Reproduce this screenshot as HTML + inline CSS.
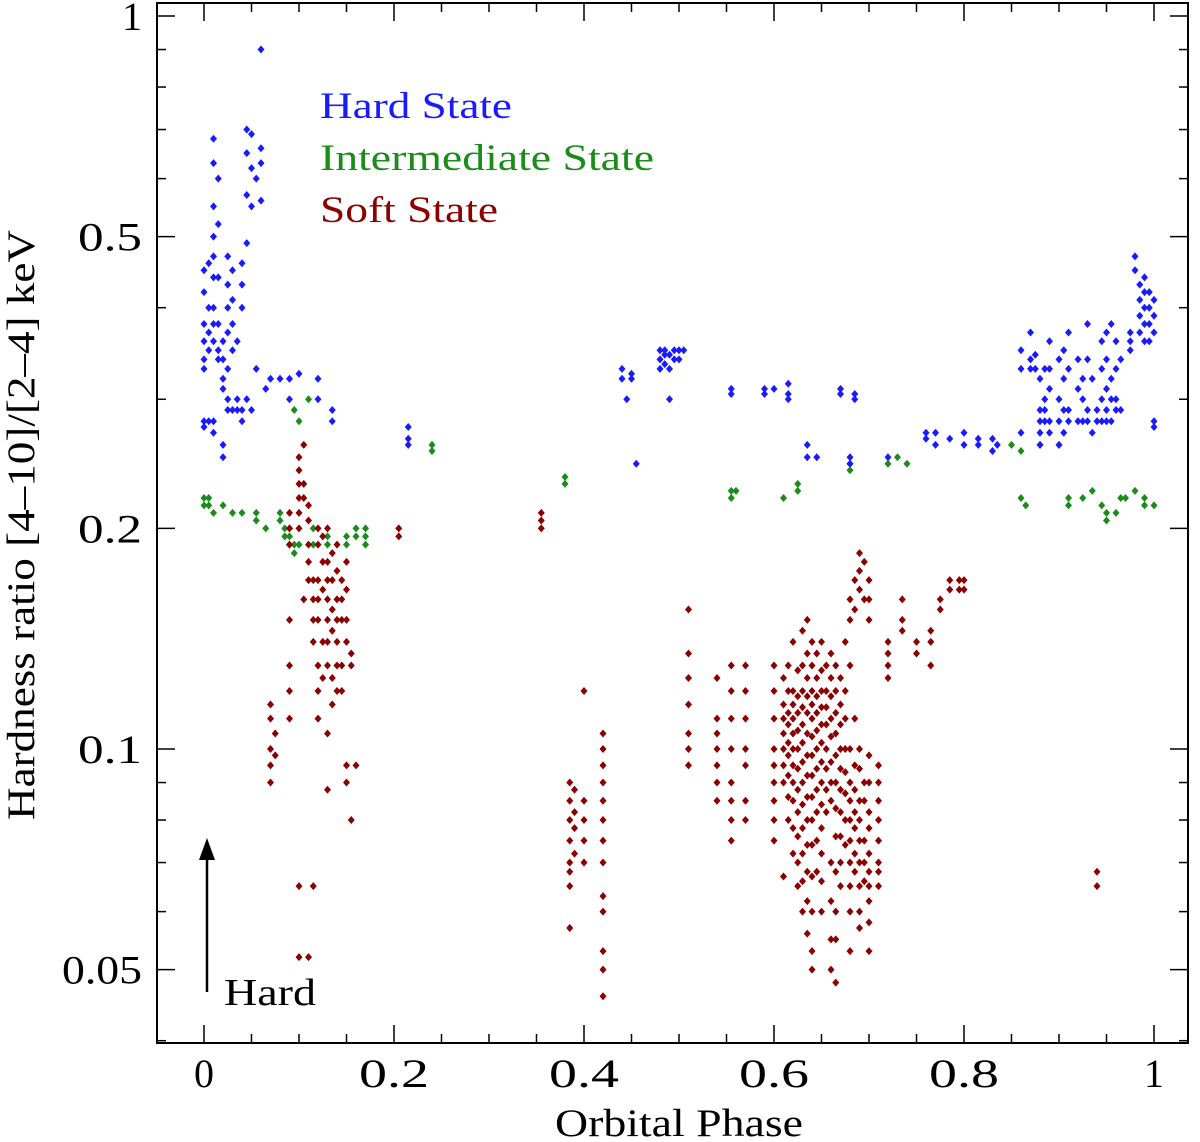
<!DOCTYPE html>
<html><head><meta charset="utf-8">
<style>
html,body{margin:0;padding:0;background:#fff;}
svg{display:block;font-family:"Liberation Serif",serif;}
</style></head>
<body>
<svg id="chart" width="1200" height="1142" viewBox="0 0 1200 1142" xmlns="http://www.w3.org/2000/svg">
<rect x="0" y="0" width="1200" height="1142" fill="#fff"/>
<g id="marks"></g>
<g id="axes"></g>
<text x="320" y="118" font-size="37" textLength="192" lengthAdjust="spacingAndGlyphs" fill="#1a1aff">Hard State</text>
<text x="320" y="170" font-size="37" textLength="334" lengthAdjust="spacingAndGlyphs" fill="#1a8c1a">Intermediate State</text>
<text x="320" y="222" font-size="37" textLength="178" lengthAdjust="spacingAndGlyphs" fill="#8b0000">Soft State</text>
<g>
<line x1="207" y1="992" x2="207" y2="855" stroke="#000" stroke-width="2.5"/>
<polygon points="207,838 199,860 215,860" fill="#000"/>
</g>
<text x="224" y="1005" font-size="38" textLength="92" lengthAdjust="spacingAndGlyphs">Hard</text>
<text x="679" y="1136" font-size="39" text-anchor="middle" textLength="248" lengthAdjust="spacingAndGlyphs">Orbital Phase</text>
<text transform="translate(34,525) rotate(-90)" font-size="39" text-anchor="middle" textLength="590" lengthAdjust="spacingAndGlyphs">Hardness ratio [4–10]/[2–4] keV</text>
</svg>
<script>
const xTickValues=[0,0.2,0.4,0.6,0.8,1];
const xTickLabels=["0","0.2","0.4","0.6","0.8","1"];
const yTickValues=[1,0.5,0.2,0.1,0.05];
const yTickLabels=["1","0.5","0.2","0.1","0.05"];
const yMinorValues=[0.9,0.8,0.7,0.6,0.4,0.3,0.09,0.08,0.07,0.06,0.04];
const hardPhase=[0,0,0,0,0,0,0,0,0.005,0.005,0.005,0.005,0.005,0.01,0.01,0.01,0.01,0.01,0.01,0.01,0.01,0.01,0.01,0.01,0.015,0.015,0.015,0.015,0.015,0.015,0.02,0.02,0.02,0.02,0.02,0.02,0.025,0.025,0.025,0.025,0.025,0.025,0.025,0.03,0.03,0.03,0.03,0.03,0.035,0.035,0.035,0.04,0.04,0.04,0.04,0.04,0.045,0.045,0.045,0.045,0.045,0.05,0.05,0.05,0.05,0.055,0.055,0.06,0.06,0.06,0.06,0.065,0.07,0.08,0.09,0.09,0.1,0.12,0.12,0.135,0.135,0.215,0.215,0.215,0.44,0.44,0.45,0.45,0.455,0.445,0.48,0.48,0.48,0.485,0.485,0.485,0.49,0.49,0.49,0.495,0.495,0.5,0.5,0.505,0.555,0.555,0.59,0.59,0.6,0.615,0.615,0.615,0.635,0.635,0.645,0.67,0.67,0.685,0.685,0.68,0.68,0.72,0.76,0.76,0.77,0.77,0.785,0.8,0.8,0.815,0.815,0.83,0.83,0.835,0.86,0.86,0.86,0.87,0.87,0.87,0.875,0.875,0.88,0.88,0.88,0.88,0.88,0.885,0.885,0.885,0.885,0.89,0.89,0.89,0.89,0.89,0.9,0.9,0.9,0.9,0.905,0.905,0.905,0.905,0.91,0.91,0.91,0.91,0.92,0.92,0.92,0.925,0.925,0.925,0.93,0.93,0.93,0.93,0.935,0.935,0.94,0.94,0.945,0.945,0.945,0.945,0.95,0.95,0.95,0.95,0.95,0.955,0.955,0.955,0.955,0.96,0.96,0.96,0.96,0.965,0.965,0.975,0.975,0.975,0.98,0.98,0.985,0.985,0.985,0.985,0.99,0.99,0.99,0.99,0.99,0.995,0.995,0.995,0.995,1,1,1,1,1];
const hardRatio=[0.45,0.42,0.38,0.36,0.34,0.33,0.28,0.275,0.46,0.40,0.37,0.35,0.28,0.40,0.38,0.36,0.28,0.27,0.68,0.63,0.55,0.5,0.47,0.44,0.60,0.52,0.44,0.38,0.35,0.34,0.36,0.34,0.32,0.31,0.26,0.25,0.47,0.43,0.40,0.37,0.33,0.30,0.29,0.45,0.41,0.38,0.35,0.29,0.36,0.30,0.29,0.46,0.43,0.40,0.29,0.28,0.70,0.65,0.57,0.49,0.30,0.69,0.62,0.55,0.29,0.60,0.33,0.90,0.66,0.63,0.56,0.31,0.32,0.32,0.32,0.30,0.325,0.32,0.30,0.29,0.28,0.275,0.265,0.26,0.33,0.32,0.325,0.32,0.245,0.30,0.35,0.34,0.33,0.35,0.345,0.335,0.345,0.33,0.30,0.35,0.34,0.35,0.34,0.35,0.31,0.305,0.31,0.305,0.31,0.315,0.305,0.30,0.26,0.25,0.25,0.31,0.305,0.305,0.30,0.25,0.245,0.25,0.27,0.265,0.27,0.26,0.265,0.27,0.26,0.265,0.26,0.265,0.255,0.26,0.35,0.33,0.27,0.37,0.34,0.33,0.345,0.33,0.32,0.29,0.28,0.27,0.26,0.33,0.30,0.29,0.28,0.31,0.28,0.27,0.33,0.36,0.34,0.30,0.28,0.26,0.35,0.32,0.29,0.27,0.37,0.33,0.29,0.28,0.34,0.31,0.28,0.32,0.30,0.28,0.38,0.34,0.29,0.28,0.32,0.27,0.29,0.28,0.36,0.33,0.30,0.28,0.37,0.34,0.31,0.29,0.28,0.38,0.32,0.30,0.28,0.36,0.33,0.30,0.29,0.34,0.29,0.37,0.35,0.36,0.47,0.45,0.43,0.41,0.39,0.37,0.44,0.42,0.40,0.38,0.36,0.42,0.40,0.38,0.36,0.41,0.39,0.37,0.28,0.275];
const interPhase=[0,0,0.005,0.005,0.01,0.02,0.03,0.04,0.055,0.055,0.065,0.08,0.08,0.085,0.085,0.09,0.09,0.09,0.095,0.095,0.095,0.1,0.1,0.11,0.115,0.115,0.13,0.13,0.15,0.15,0.16,0.16,0.17,0.17,0.17,0.24,0.24,0.38,0.38,0.555,0.555,0.56,0.625,0.625,0.61,0.68,0.68,0.72,0.73,0.74,0.85,0.86,0.88,0.9,0.86,0.865,0.91,0.91,0.925,0.935,0.945,0.95,0.95,0.96,0.965,0.97,0.98,0.99,0.99,1];
const interRatio=[0.215,0.22,0.22,0.215,0.21,0.215,0.21,0.21,0.205,0.21,0.20,0.21,0.205,0.20,0.195,0.195,0.19,0.2,0.185,0.19,0.29,0.28,0.19,0.30,0.2,0.19,0.195,0.19,0.19,0.195,0.195,0.2,0.19,0.2,0.195,0.26,0.255,0.235,0.23,0.225,0.22,0.225,0.23,0.225,0.22,0.245,0.24,0.245,0.25,0.245,0.26,0.255,0.26,0.26,0.22,0.215,0.22,0.215,0.22,0.225,0.215,0.21,0.205,0.21,0.22,0.22,0.225,0.22,0.215,0.215];
const softPhase=[0.07,0.07,0.07,0.07,0.07,0.075,0.075,0.09,0.09,0.09,0.09,0.09,0.09,0.09,0.1,0.1,0.1,0.1,0.1,0.1,0.1,0.1,0.105,0.105,0.105,0.105,0.11,0.11,0.11,0.11,0.11,0.11,0.115,0.115,0.115,0.115,0.115,0.12,0.12,0.12,0.12,0.12,0.12,0.12,0.12,0.125,0.125,0.125,0.125,0.125,0.13,0.13,0.13,0.13,0.13,0.13,0.13,0.13,0.13,0.135,0.135,0.135,0.135,0.135,0.135,0.14,0.14,0.14,0.14,0.14,0.14,0.14,0.145,0.145,0.145,0.145,0.145,0.15,0.15,0.15,0.15,0.15,0.15,0.155,0.155,0.155,0.16,0.205,0.205,0.355,0.355,0.355,0.385,0.385,0.385,0.385,0.385,0.385,0.385,0.385,0.39,0.39,0.39,0.39,0.4,0.4,0.4,0.4,0.4,0.42,0.42,0.42,0.42,0.42,0.42,0.42,0.42,0.42,0.42,0.42,0.42,0.42,0.51,0.51,0.51,0.51,0.51,0.51,0.51,0.54,0.54,0.54,0.54,0.54,0.54,0.54,0.555,0.555,0.555,0.555,0.555,0.555,0.555,0.555,0.57,0.57,0.57,0.57,0.57,0.57,0.57,0.6,0.6,0.6,0.6,0.6,0.6,0.6,0.6,0.6,0.61,0.61,0.61,0.61,0.61,0.61,0.61,0.61,0.615,0.615,0.615,0.615,0.615,0.615,0.615,0.615,0.615,0.62,0.62,0.62,0.62,0.62,0.62,0.62,0.62,0.62,0.62,0.62,0.625,0.625,0.625,0.625,0.625,0.625,0.625,0.625,0.625,0.625,0.625,0.63,0.63,0.63,0.63,0.63,0.63,0.63,0.63,0.63,0.63,0.63,0.63,0.63,0.635,0.635,0.635,0.635,0.635,0.635,0.635,0.635,0.635,0.635,0.635,0.635,0.635,0.635,0.64,0.64,0.64,0.64,0.64,0.64,0.64,0.64,0.64,0.64,0.64,0.64,0.64,0.64,0.64,0.645,0.645,0.645,0.645,0.645,0.645,0.645,0.645,0.645,0.645,0.645,0.65,0.65,0.65,0.65,0.65,0.65,0.65,0.65,0.65,0.65,0.65,0.65,0.65,0.655,0.655,0.655,0.655,0.655,0.655,0.655,0.655,0.66,0.66,0.66,0.66,0.66,0.66,0.66,0.66,0.66,0.66,0.66,0.66,0.665,0.665,0.665,0.665,0.665,0.665,0.665,0.665,0.665,0.665,0.665,0.665,0.67,0.67,0.67,0.67,0.67,0.67,0.67,0.67,0.67,0.67,0.675,0.675,0.675,0.675,0.675,0.675,0.675,0.675,0.68,0.68,0.68,0.68,0.68,0.68,0.68,0.68,0.68,0.68,0.68,0.68,0.685,0.685,0.685,0.685,0.685,0.685,0.685,0.685,0.685,0.69,0.69,0.69,0.69,0.69,0.69,0.69,0.69,0.69,0.69,0.69,0.69,0.695,0.695,0.695,0.695,0.695,0.695,0.695,0.7,0.7,0.7,0.7,0.7,0.7,0.7,0.7,0.7,0.7,0.7,0.7,0.7,0.71,0.71,0.71,0.71,0.71,0.71,0.71,0.71,0.72,0.72,0.72,0.72,0.735,0.735,0.735,0.75,0.75,0.765,0.765,0.765,0.775,0.775,0.785,0.785,0.795,0.795,0.8,0.8,0.94,0.94];
const softRatio=[0.115,0.11,0.10,0.095,0.09,0.105,0.098,0.21,0.20,0.19,0.15,0.13,0.12,0.11,0.25,0.24,0.23,0.22,0.21,0.2,0.065,0.052,0.23,0.22,0.26,0.16,0.215,0.205,0.19,0.18,0.17,0.052,0.17,0.16,0.15,0.14,0.065,0.2,0.19,0.17,0.16,0.15,0.13,0.12,0.11,0.195,0.18,0.165,0.14,0.125,0.2,0.18,0.17,0.16,0.15,0.14,0.13,0.105,0.088,0.185,0.17,0.155,0.145,0.125,0.115,0.19,0.175,0.16,0.15,0.14,0.13,0.12,0.17,0.16,0.15,0.13,0.12,0.18,0.165,0.15,0.14,0.095,0.09,0.135,0.13,0.08,0.095,0.2,0.195,0.21,0.205,0.2,0.09,0.085,0.08,0.075,0.07,0.068,0.065,0.057,0.088,0.082,0.078,0.072,0.12,0.085,0.08,0.075,0.07,0.105,0.1,0.095,0.09,0.085,0.08,0.075,0.07,0.063,0.06,0.053,0.05,0.046,0.155,0.135,0.125,0.115,0.105,0.1,0.095,0.125,0.11,0.105,0.1,0.095,0.09,0.085,0.13,0.12,0.11,0.1,0.09,0.085,0.08,0.075,0.13,0.12,0.11,0.1,0.095,0.085,0.08,0.13,0.12,0.11,0.1,0.095,0.09,0.085,0.08,0.075,0.125,0.115,0.11,0.105,0.1,0.095,0.09,0.067,0.13,0.12,0.112,0.108,0.102,0.098,0.092,0.086,0.08,0.14,0.12,0.115,0.11,0.105,0.1,0.095,0.09,0.085,0.078,0.072,0.128,0.118,0.112,0.106,0.1,0.094,0.088,0.082,0.076,0.07,0.065,0.145,0.13,0.12,0.114,0.108,0.102,0.096,0.09,0.084,0.078,0.072,0.066,0.06,0.15,0.135,0.125,0.118,0.112,0.105,0.098,0.092,0.086,0.08,0.074,0.068,0.062,0.056,0.14,0.13,0.12,0.115,0.11,0.104,0.098,0.092,0.086,0.08,0.074,0.067,0.06,0.053,0.05,0.135,0.125,0.118,0.112,0.106,0.1,0.094,0.088,0.082,0.075,0.068,0.14,0.128,0.12,0.114,0.108,0.102,0.096,0.09,0.084,0.078,0.072,0.066,0.06,0.13,0.12,0.114,0.108,0.1,0.094,0.088,0.082,0.135,0.125,0.118,0.11,0.104,0.096,0.09,0.085,0.07,0.062,0.055,0.05,0.13,0.12,0.112,0.105,0.098,0.09,0.083,0.076,0.068,0.06,0.055,0.048,0.125,0.115,0.108,0.1,0.094,0.088,0.082,0.076,0.07,0.065,0.14,0.12,0.11,0.1,0.093,0.087,0.08,0.074,0.16,0.15,0.13,0.1,0.09,0.085,0.08,0.075,0.07,0.065,0.06,0.053,0.17,0.155,0.11,0.095,0.088,0.082,0.078,0.072,0.068,0.185,0.175,0.165,0.1,0.094,0.085,0.08,0.075,0.07,0.065,0.06,0.057,0.18,0.16,0.09,0.085,0.075,0.07,0.066,0.17,0.16,0.15,0.098,0.09,0.082,0.078,0.072,0.068,0.065,0.062,0.058,0.053,0.095,0.09,0.085,0.08,0.075,0.07,0.068,0.065,0.14,0.135,0.13,0.125,0.16,0.15,0.145,0.14,0.135,0.145,0.14,0.13,0.16,0.155,0.17,0.165,0.17,0.165,0.17,0.165,0.068,0.065];

const NS="http://www.w3.org/2000/svg";
const L=157,R=1188,T=3,B=1043;
function xScale(p){return 204+p*950;}
function yScale(v){return 16-733*Math.log10(v);}
const marks=document.getElementById('marks');
const axes=document.getElementById('axes');
function mk(tag,attrs,parent){const e=document.createElementNS(NS,tag);for(const k in attrs)e.setAttribute(k,attrs[k]);parent.appendChild(e);return e;}
function drawSeries(ph,rt,color,name){
  for(let i=0;i<ph.length;i++){
    const x=xScale(ph[i]),y=yScale(rt[i]);
    const d=mk('polygon',{points:`${x},${y-4} ${x+3.5},${y} ${x},${y+4} ${x-3.5},${y}`,fill:color},marks);
    
    
  }
}
drawSeries(interPhase,interRatio,'#1a8c1a','intermediate-state-point');
drawSeries(hardPhase,hardRatio,'#1a1aff','hard-state-point');
drawSeries(softPhase,softRatio,'#8b0000','soft-state-point');

const frame=mk('rect',{x:L,y:T,width:R-L,height:B-T,fill:'none',stroke:'#000','stroke-width':2},axes);


for(let i=0;i<=20;i++){
  const p=i*0.05;const x=xScale(p);
  const len=(i%4===0)?18:9;
  mk('line',{x1:x,y1:B,x2:x,y2:B-len,stroke:'#000','stroke-width':1.5},axes);
  mk('line',{x1:x,y1:T,x2:x,y2:T+len,stroke:'#000','stroke-width':1.5},axes);
}
xTickValues.forEach((v,i)=>{
  const t=mk('text',{x:xScale(v),y:1087,'font-size':40,'text-anchor':'middle'},axes);
  t.textContent=xTickLabels[i];
  if(xTickLabels[i].length>1){t.setAttribute('textLength','70');t.setAttribute('lengthAdjust','spacingAndGlyphs');}
  
  
});
yTickValues.forEach((v,i)=>{
  const y=yScale(v);
  mk('line',{x1:L,y1:y,x2:L+18,y2:y,stroke:'#000','stroke-width':1.5},axes);
  mk('line',{x1:R,y1:y,x2:R-18,y2:y,stroke:'#000','stroke-width':1.5},axes);
  const lab=yTickLabels[i];
  const w=lab.length===1?20:(lab.length===3?64:80);
  const t=mk('text',{x:142-w,y:y+14,'font-size':40,'textLength':w,'lengthAdjust':'spacingAndGlyphs'},axes);
  t.textContent=lab;
  
  
});
yMinorValues.forEach(v=>{
  const y=yScale(v);
  if(y>B)return;
  mk('line',{x1:L,y1:y,x2:L+9,y2:y,stroke:'#000','stroke-width':1.5},axes);
  mk('line',{x1:R,y1:y,x2:R-9,y2:y,stroke:'#000','stroke-width':1.5},axes);
});
</script>
</body></html>
